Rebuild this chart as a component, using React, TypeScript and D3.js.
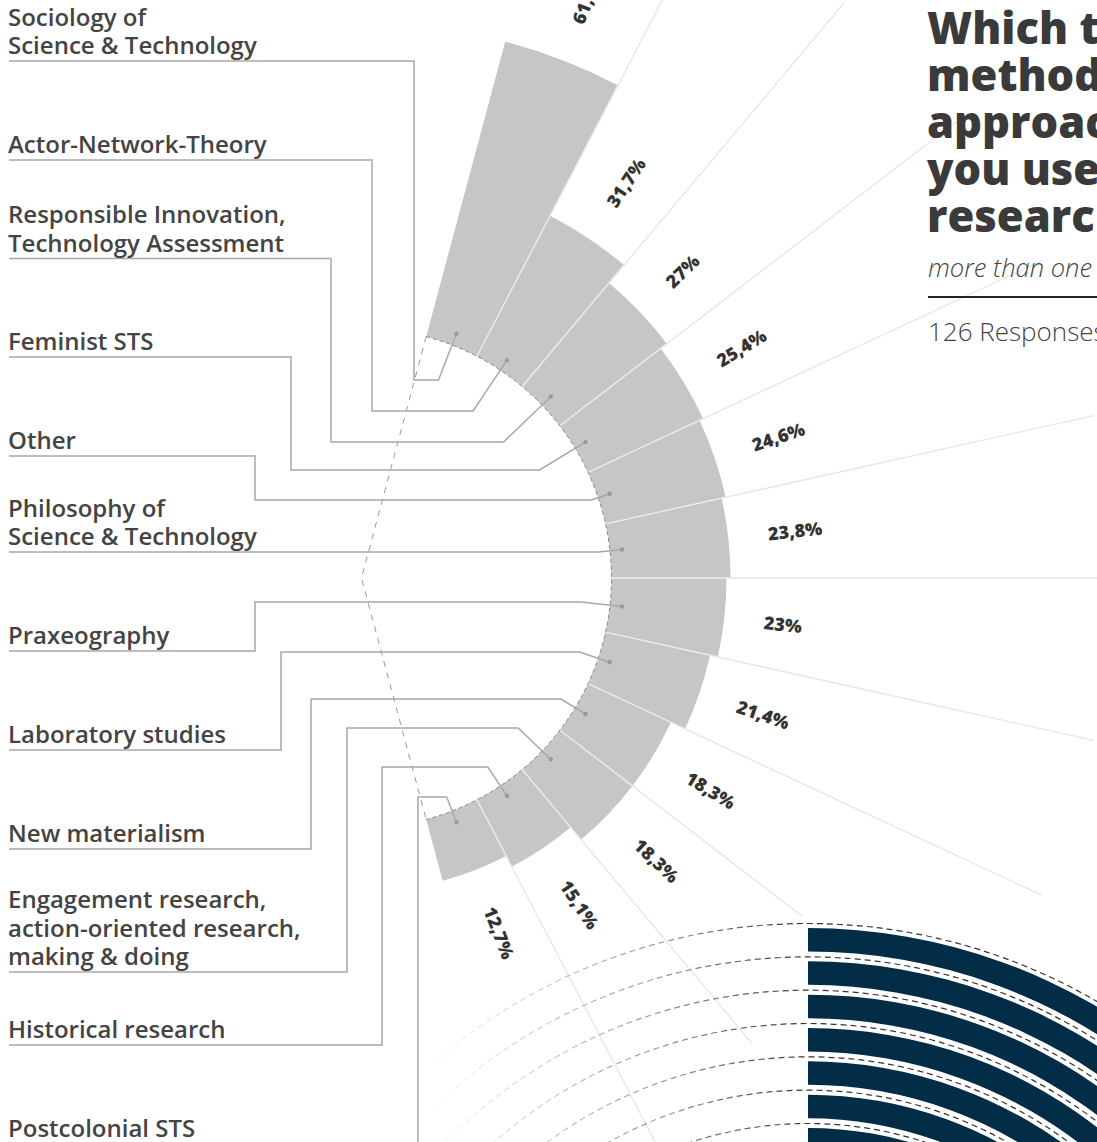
import React from 'react';
import * as d3 from 'd3';

// ---------- data ----------
const categories: string[] = [
  'Sociology of\nScience & Technology',
  'Actor-Network-Theory',
  'Responsible Innovation,\nTechnology Assessment',
  'Feminist STS',
  'Other',
  'Philosophy of\nScience & Technology',
  'Praxeography',
  'Laboratory studies',
  'New materialism',
  'Engagement research,\naction-oriented research,\nmaking & doing',
  'Historical research',
  'Postcolonial STS',
];
const shares: number[] = [61.1, 31.7, 27, 25.4, 24.6, 23.8, 23, 21.4, 18.3, 18.3, 15.1, 12.7];
const titleLines: string[] = ['Which theories,', 'methods and', 'approaches do', 'you use in your', 'research?'];
const subtitle = 'more than one answer possible';
const responses = '126 Responses';
// second (cropped) chart: rings
const ringIds: number[] = [0, 1, 2, 3, 4, 5, 6, 7];

// ---------- layout (positions only) ----------
const W = 1097;
const H = 1142;
const CX = 361.5;
const CY = 578;
const INNER = 250;
const DOT_R = 262;
// underline y, elbow x (null = straight), connector y
const labelLayout: { u: number; ex: number | null; cy: number }[] = [
  { u: 61, ex: 414, cy: 380 },
  { u: 160, ex: 372, cy: 411 },
  { u: 258.5, ex: 331, cy: 442 },
  { u: 357, ex: 291, cy: 470 },
  { u: 456, ex: 255, cy: 500 },
  { u: 552, ex: null, cy: 552 },
  { u: 651, ex: 255, cy: 602 },
  { u: 750, ex: 281, cy: 652 },
  { u: 849, ex: 311, cy: 699 },
  { u: 972, ex: 347, cy: 728 },
  { u: 1045, ex: 382, cy: 767 },
  { u: 1144, ex: 418, cy: 797 },
];

const FONT = "'Open Sans', 'Noto Sans', sans-serif";

export default function App() {
  const deg = Math.PI / 180;
  const angle = d3.scaleBand<string>().domain(categories).range([15 * deg, 165 * deg]).paddingInner(0).paddingOuter(0);
  const radius = d3.scaleLinear().domain([0, 100]).range([INNER, 750]);
  const arc = d3.arc<any>();

  const pt = (a: number, r: number): [number, number] => [CX + r * Math.sin(a), CY - r * Math.cos(a)];

  const bw = angle.bandwidth();

  // inner dashed arc
  const innerArc = d3.path();
  innerArc.arc(CX, CY, INNER, 15 * deg - Math.PI / 2, 165 * deg - Math.PI / 2);
  const p0 = pt(15 * deg, INNER);
  const p1 = pt(165 * deg, INNER);

  // second chart
  const C2X = 808;
  const C2Y = 1498;
  const R2 = 570;
  const STEP = 33.33;
  const THICK = 23.5;

  return (
    <svg width={W} height={H} style={{ position: 'absolute', left: 0, top: 0, display: 'block', background: '#fff' }} fontFamily={FONT}>
      <defs>
        <linearGradient id="dashfade" gradientUnits="userSpaceOnUse" x1={420 - C2X} y1={0} x2={0} y2={0}>
          <stop offset="0" stopColor="#999" stopOpacity={0} />
          <stop offset="0.45" stopColor="#888" stopOpacity={0.6} />
          <stop offset="1" stopColor="#333" stopOpacity={1} />
        </linearGradient>
      </defs>

      {/* grid rays */}
      <g>
        {categories.slice(1).map((c) => {
          const a = angle(c)!;
          const [x1, y1] = pt(a, INNER);
          const [x2, y2] = pt(a, radius(100));
          return <line key={c} x1={x1} y1={y1} x2={x2} y2={y2} stroke="#e6e6e6" strokeWidth={1.3} />;
        })}
      </g>

      {/* second chart (cropped) */}
      <g transform={`translate(${C2X},${C2Y})`}>
        <path d={arc({ innerRadius: 0, outerRadius: R2 + 12, startAngle: -7 * deg, endAngle: 90 * deg }) as string} fill="#fff" />
        {ringIds.map((i) => {
          const rOut = R2 - i * STEP;
          return (
            <path
              key={'b' + i}
              d={arc({ innerRadius: rOut - THICK, outerRadius: rOut, startAngle: 0, endAngle: 80 * deg }) as string}
              fill="#032d47"
            />
          );
        })}
        {ringIds.map((i) => {
          const rOut = R2 - i * STEP;
          const dp = d3.path();
          dp.arc(0, 0, rOut + 4.5, -Math.PI / 2 - 48 * deg, -Math.PI / 2 + 80 * deg);
          return (
            <path key={'d' + i} d={dp.toString()} fill="none" stroke="url(#dashfade)" strokeWidth={1.2} strokeDasharray="6 4" />
          );
        })}
      </g>

      {/* bars */}
      <g transform={`translate(${CX},${CY})`}>
        {categories.map((c, i) => (
          <path
            key={c}
            d={arc({ innerRadius: INNER, outerRadius: radius(shares[i]), startAngle: angle(c)!, endAngle: angle(c)! + bw }) as string}
            fill="#c6c6c6"
          />
        ))}
      </g>
      {/* separators over bars */}
      <g>
        {categories.slice(1).map((c, i) => {
          const a = angle(c)!;
          const [x1, y1] = pt(a, INNER);
          const [x2, y2] = pt(a, Math.max(radius(shares[i]), radius(shares[i + 1])));
          return <line key={c} x1={x1} y1={y1} x2={x2} y2={y2} stroke="#ececec" strokeWidth={1.4} />;
        })}
      </g>

      {/* inner dashed arc + chevron */}
      <path d={innerArc.toString()} fill="none" stroke="#888" strokeWidth={1} strokeDasharray="4 3" />
      <path d={`M${p0[0]},${p0[1]}L${CX},${CY}L${p1[0]},${p1[1]}`} fill="none" stroke="#999" strokeWidth={1} strokeDasharray="6 6" />

      {/* percent labels */}
      <g>
        {categories.map((c, i) => {
          const a = angle(c)! + bw / 2;
          const [x, y] = pt(a, radius(shares[i]) + 40);
          const rot = a / deg - 90;
          return (
            <text
              key={c}
              transform={`translate(${x},${y}) rotate(${rot})`}
              textAnchor="start"
              dominantBaseline="central"
              fontSize={18}
              fontWeight={800}
              fill="#333"
            >
              {String(shares[i]).replace('.', ',') + '%'}
            </text>
          );
        })}
      </g>

      {/* category labels and leaders */}
      <g>
        {categories.map((c, i) => {
          const L = labelLayout[i];
          const a = angle(c)! + bw / 2;
          const [dx, dy] = pt(a, DOT_R);
          const rho = (CY - L.cy) / Math.cos(a);
          const [ix] = pt(a, rho);
          let d = `M9,${L.u}`;
          if (L.ex !== null) d += `H${L.ex}V${L.cy}`;
          d += `H${ix}L${dx},${dy}`;
          const lines = c.split('\n');
          return (
            <g key={c}>
              <path d={d} fill="none" stroke="#a8a8a8" strokeWidth={1.5} />
              <circle cx={dx} cy={dy} r={2.2} fill="#999" />
              <text x={8} fontSize={24} fontWeight={600} fill="#444">
                {lines.map((ln, j) => (
                  <tspan key={j} x={8} y={L.u - 7 - (lines.length - 1 - j) * 28.5}>
                    {ln}
                  </tspan>
                ))}
              </text>
            </g>
          );
        })}
      </g>

      {/* title block */}
      <g>
        {titleLines.map((t, i) => (
          <text key={t} x={927} y={44 + i * 47} fontSize={43.5} fontWeight={800} fill="#3a3a3a">
            {t}
          </text>
        ))}
        <text x={928} y={277} fontSize={25.5} fontStyle="italic" fontWeight={300} fill="#444">
          {subtitle}
        </text>
        <line x1={928} x2={W} y1={297} y2={297} stroke="#222" strokeWidth={2} />
        <text x={928} y={341} fontSize={26} fontWeight={300} fill="#444">
          {responses}
        </text>
      </g>
    </svg>
  );
}
